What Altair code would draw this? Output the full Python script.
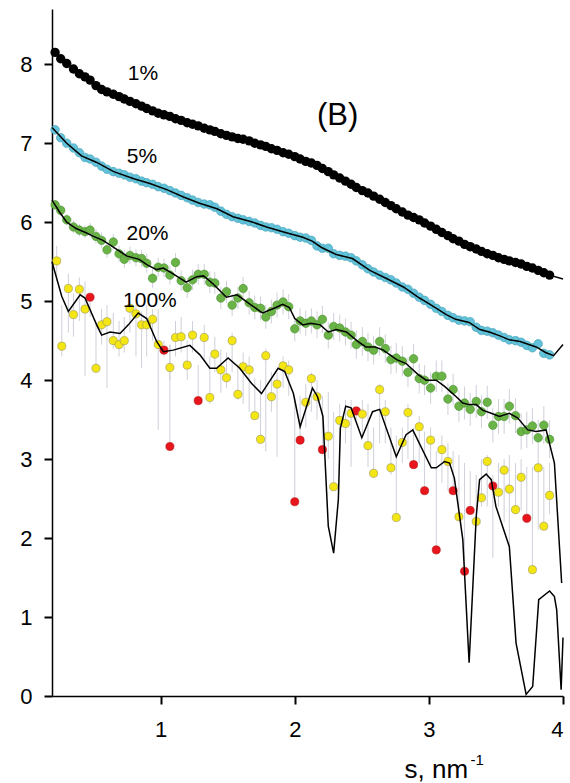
import altair as alt
import pandas as pd

FONT = "Liberation Sans"

s_grid = [0.213, 0.255, 0.30, 0.35, 0.394, 0.436, 0.474, 0.518, 0.56, 0.60,
          0.647, 0.69, 0.729, 0.771, 0.816, 0.858, 0.896, 0.94, 0.982, 1.025,
          1.069, 1.111, 1.153, 1.198, 1.238, 1.28, 1.325, 1.367, 1.404, 1.449,
          1.491, 1.533, 1.576, 1.615, 1.66, 1.702, 1.745, 1.784, 1.826, 1.868,
          1.913, 1.955, 2.0, 2.04, 2.082, 2.124, 2.166, 2.206, 2.25, 2.29,
          2.335, 2.378, 2.42, 2.459, 2.504, 2.546, 2.588, 2.633, 2.675, 2.717,
          2.757, 2.802, 2.844, 2.886, 2.928, 2.968, 3.013, 3.055, 3.097, 3.142,
          3.181, 3.224, 3.266, 3.308, 3.353, 3.392, 3.435, 3.477, 3.519, 3.561,
          3.60, 3.646, 3.688, 3.73, 3.772, 3.815, 3.857, 3.90]

v_1pct = [8.15, 8.07, 8.01, 7.94, 7.88, 7.84, 7.80, 7.73, 7.68, 7.65,
          7.62, 7.59, 7.56, 7.53, 7.50, 7.47, 7.44, 7.41, 7.38, 7.36,
          7.34, 7.31, 7.29, 7.26, 7.24, 7.22, 7.19, 7.17, 7.15, 7.12,
          7.10, 7.08, 7.06, 7.05, 7.03, 7.00, 6.98, 6.96, 6.93, 6.91,
          6.88, 6.86, 6.83, 6.80, 6.77, 6.75, 6.72, 6.68, 6.64, 6.60,
          6.56, 6.52, 6.48, 6.44, 6.40, 6.37, 6.33, 6.29, 6.25, 6.21,
          6.17, 6.13, 6.09, 6.06, 6.03, 5.99, 5.95, 5.91, 5.87, 5.83,
          5.79, 5.76, 5.72, 5.69, 5.66, 5.63, 5.60, 5.58, 5.55, 5.53,
          5.51, 5.49, 5.47, 5.44, 5.42, 5.39, 5.36, 5.33]

v_5pct = [7.17, 7.07, 7.00, 6.94, 6.88, 6.82, 6.80, 6.76, 6.71, 6.67,
          6.64, 6.62, 6.60, 6.57, 6.55, 6.52, 6.50, 6.48, 6.45, 6.43,
          6.40, 6.37, 6.34, 6.31, 6.28, 6.25, 6.23, 6.22, 6.19, 6.14,
          6.10, 6.07, 6.05, 6.03, 6.01, 5.99, 5.96, 5.94, 5.93, 5.91,
          5.88, 5.86, 5.83, 5.81, 5.80, 5.77, 5.70, 5.67, 5.67, 5.60,
          5.58, 5.57, 5.55, 5.51, 5.46, 5.41, 5.37, 5.33, 5.30, 5.27,
          5.23, 5.18, 5.15, 5.10, 5.05, 5.01, 4.96, 4.91, 4.87, 4.82,
          4.79, 4.76, 4.75, 4.74, 4.67, 4.63, 4.62, 4.60, 4.57, 4.54,
          4.51, 4.50, 4.48, 4.44, 4.41, 4.46, 4.34, 4.32]

v_20pct = [6.22, 6.15, 6.03, 5.94, 5.90, 5.88, 5.90, 5.82, 5.77, 5.65,
           5.75, 5.60, 5.53, 5.58, 5.55, 5.54, 5.48, 5.29, 5.43, 5.42,
           5.33, 5.49, 5.26, 5.17, 5.27, 5.34, 5.34, 5.24, 5.23, 5.04,
           5.12, 4.95, 5.04, 5.16, 4.98, 4.92, 4.91, 4.80, 4.87, 4.95,
           4.99, 4.93, 4.65, 4.75, 4.72, 4.75, 4.70, 4.77, 4.57, 4.68,
           4.66, 4.61, 4.57, 4.45, 4.49, 4.42, 4.38, 4.49, 4.40, 4.26,
           4.28, 4.24, 4.10, 4.27, 4.02, 4.00, 3.90, 4.05, 4.05, 3.76,
           3.88, 3.67, 3.71, 3.63, 3.73, 3.60, 3.72, 3.43, 3.54, 3.54,
           3.67, 3.55, 3.35, 3.37, 3.42, 3.27, 3.43, 3.25]

e_20pct = [0.06, 0.07, 0.07, 0.08, 0.08, 0.08, 0.09, 0.09, 0.10, 0.10,
           0.10, 0.10, 0.11, 0.11, 0.11, 0.11, 0.12, 0.12, 0.12, 0.12,
           0.12, 0.12, 0.13, 0.13, 0.13, 0.13, 0.13, 0.14, 0.14, 0.14,
           0.14, 0.14, 0.14, 0.15, 0.15, 0.15, 0.15, 0.15, 0.15, 0.16,
           0.16, 0.16, 0.16, 0.16, 0.16, 0.16, 0.17, 0.17, 0.17, 0.17,
           0.17, 0.17, 0.17, 0.18, 0.18, 0.18, 0.18, 0.18, 0.18, 0.18,
           0.19, 0.19, 0.19, 0.19, 0.19, 0.19, 0.20, 0.20, 0.20, 0.20,
           0.20, 0.20, 0.21, 0.21, 0.21, 0.21, 0.21, 0.22, 0.22, 0.22,
           0.22, 0.22, 0.23, 0.23, 0.23, 0.23, 0.24, 0.24]

s_100 = [0.225, 0.263, 0.312, 0.35, 0.394, 0.436, 0.474, 0.518, 0.56, 0.60,
         0.647, 0.69, 0.729, 0.771, 0.816, 0.858, 0.896, 0.94, 0.982, 1.025,
         1.069, 1.069, 1.111, 1.153, 1.198, 1.238, 1.28, 1.325, 1.367, 1.404,
         1.449, 1.491, 1.533, 1.576, 1.615, 1.66, 1.702, 1.745, 1.784, 1.826,
         1.868, 1.913, 1.955, 2.0, 2.04, 2.082, 2.124, 2.166, 2.206, 2.25,
         2.29, 2.335, 2.378, 2.42, 2.459, 2.504, 2.546, 2.588, 2.633, 2.675,
         2.717, 2.757, 2.802, 2.844, 2.886, 2.928, 2.968, 3.013, 3.055, 3.097,
         3.142, 3.181, 3.224, 3.266, 3.308, 3.353, 3.392, 3.435, 3.477, 3.519,
         3.561, 3.60, 3.646, 3.688, 3.73, 3.772, 3.815, 3.857, 3.90]
v_100 = [5.51, 4.43, 5.16, 4.83, 5.15, 4.90, 5.05, 4.15, 4.70, 4.74,
         4.50, 4.45, 4.50, 4.91, 4.84, 4.70, 4.70, 4.77, 4.45, 4.38,
         4.16, 3.16, 4.54, 4.55, 4.19, 4.57, 3.74, 4.54, 3.78, 4.33,
         4.13, 4.03, 4.50, 3.82, 4.17, 4.13, 3.55, 3.25, 4.31, 3.79,
         3.95, 4.18, 4.13, 2.46, 3.24, 3.72, 4.02, 3.79, 3.12, 3.29,
         2.65, 3.49, 3.45, 3.58, 3.61, 3.57, 3.17, 2.82, 3.88, 3.60,
         2.89, 2.26, 3.21, 3.59, 2.93, 3.41, 2.60, 3.24, 1.85, 3.12,
         2.97, 2.60, 2.27, 1.58, 2.35, 2.21, 2.51, 2.97, 2.66, 2.58,
         2.86, 2.62, 2.36, 2.77, 2.25, 1.60, 2.89, 2.15, 2.54]
flag_100 = ["ok", "ok", "ok", "ok", "ok", "ok", "out", "ok", "ok", "ok",
            "ok", "ok", "ok", "ok", "ok", "ok", "ok", "ok", "ok", "out",
            "ok", "out", "ok", "ok", "ok", "ok", "out", "ok", "ok", "ok",
            "ok", "ok", "ok", "ok", "ok", "ok", "ok", "ok", "ok", "ok",
            "ok", "ok", "ok", "out", "out", "ok", "ok", "ok", "out", "ok",
            "ok", "ok", "ok", "ok", "out", "ok", "ok", "ok", "ok", "ok",
            "ok", "ok", "ok", "ok", "out", "ok", "out", "ok", "out", "ok",
            "ok", "out", "ok", "out", "out", "ok", "ok", "ok", "out", "ok",
            "ok", "ok", "ok", "ok", "out", "ok", "ok", "ok", "ok"]
lo_100 = [5.25, 4.30, 4.60, 4.55, 4.75, 4.05, 4.80, 4.10, 4.45, 3.90,
          4.40, 4.30, 4.35, 4.60, 4.30, 4.15, 4.30, 4.50, 3.37, 4.30,
          4.00, 3.16, 4.30, 4.35, 4.00, 4.35, 3.74, 4.25, 3.70, 4.10,
          3.84, 3.90, 4.10, 3.75, 3.70, 3.60, 3.50, 3.20, 3.10, 3.60,
          3.03, 3.90, 3.80, 2.46, 3.24, 3.40, 3.60, 3.50, 3.12, 3.00,
          2.65, 3.10, 3.20, 2.90, 3.50, 3.30, 2.90, 2.80, 3.20, 3.20,
          2.80, 2.26, 2.95, 3.00, 2.93, 2.95, 2.60, 2.90, 1.85, 2.70,
          2.60, 2.60, 2.27, 1.58, 2.35, 2.15, 2.40, 2.40, 1.75, 2.40,
          2.20, 1.90, 2.30, 2.35, 2.25, 1.60, 2.10, 2.15, 2.30]
hi_100 = [5.70, 4.95, 5.35, 5.10, 5.30, 5.25, 5.10, 4.72, 4.90, 4.95,
          4.85, 4.75, 4.80, 5.00, 4.95, 4.87, 4.95, 4.90, 4.90, 4.50,
          4.45, 4.45, 4.75, 4.80, 4.50, 4.75, 4.19, 4.70, 4.30, 4.55,
          4.39, 4.35, 4.60, 4.20, 4.35, 4.30, 4.03, 4.00, 4.40, 4.10,
          4.10, 4.30, 4.25, 3.78, 3.80, 3.95, 4.10, 4.00, 3.80, 3.85,
          3.60, 3.70, 3.75, 3.75, 3.65, 3.75, 3.70, 3.40, 3.95, 3.75,
          3.40, 3.30, 3.40, 3.70, 3.40, 3.55, 3.35, 3.40, 3.10, 3.30,
          3.20, 3.10, 3.05, 2.95, 2.85, 2.80, 3.00, 3.05, 2.80, 2.95,
          3.00, 3.05, 2.95, 3.00, 2.90, 2.90, 3.05, 2.90, 2.95]

fit5_s = [0.19, 0.30, 0.41, 0.52, 0.65, 0.80, 0.92, 1.05, 1.17, 1.29,
          1.42, 1.54, 1.67, 1.79, 1.91, 2.06, 2.13, 2.20, 2.285, 2.31,
          2.43, 2.56, 2.68, 2.81, 2.93, 3.00, 3.13, 3.20, 3.30, 3.38,
          3.45, 3.53, 3.60, 3.68, 3.80, 3.87, 3.93, 4.0]
fit5_v = [7.20, 7.00, 6.84, 6.76, 6.64, 6.55, 6.49, 6.41, 6.32, 6.24,
          6.17, 6.07, 6.01, 5.94, 5.88, 5.81, 5.76, 5.68, 5.61, 5.59,
          5.54, 5.39, 5.29, 5.18, 5.04, 4.97, 4.83, 4.77, 4.73, 4.64,
          4.61, 4.56, 4.51, 4.49, 4.42, 4.35, 4.31, 4.45]
fit20_s = [0.19, 0.25, 0.30, 0.37, 0.44, 0.50, 0.57, 0.67, 0.75, 0.84,
           0.90, 0.97, 1.02, 1.09, 1.19, 1.27, 1.32, 1.39, 1.49, 1.57,
           1.66, 1.76, 1.86, 1.91, 1.96, 2.0, 2.06, 2.12, 2.19, 2.25,
           2.31, 2.385, 2.47, 2.53, 2.60, 2.66, 2.76, 2.83, 2.92, 2.98,
           3.055, 3.117, 3.204, 3.253, 3.30, 3.353, 3.40, 3.465, 3.526, 3.60,
           3.663, 3.737, 3.80, 3.874, 3.936, 3.99]
fit20_v = [6.28, 6.12, 6.00, 5.92, 5.87, 5.82, 5.77, 5.66, 5.57, 5.53,
           5.46, 5.40, 5.42, 5.35, 5.24, 5.31, 5.32, 5.22, 5.05, 5.08,
           4.97, 4.85, 4.92, 4.96, 4.92, 4.78, 4.70, 4.72, 4.70, 4.61,
           4.64, 4.61, 4.49, 4.42, 4.42, 4.38, 4.26, 4.21, 4.07, 4.00,
           4.00, 3.92, 3.79, 3.71, 3.69, 3.69, 3.62, 3.58, 3.54, 3.58,
           3.52, 3.37, 3.35, 3.37, 2.95, 1.43]
fit100_s = [0.19, 0.263, 0.312, 0.40, 0.436, 0.523, 0.56, 0.623, 0.697, 0.759,
            0.833, 0.896, 0.97, 1.02, 1.094, 1.218, 1.293, 1.367, 1.417, 1.503,
            1.59, 1.677, 1.752, 1.814, 1.876, 1.925, 1.99, 2.04, 2.132, 2.17,
            2.21, 2.25, 2.29, 2.325, 2.34, 2.38, 2.42, 2.50, 2.58, 2.633,
            2.757, 2.83, 2.88, 3.018, 3.055, 3.117, 3.154, 3.19, 3.253, 3.30,
            3.353, 3.378, 3.427, 3.465, 3.50, 3.60, 3.65, 3.725, 3.774, 3.819,
            3.90, 3.936, 3.953, 3.986, 4.0]
fit100_v = [5.50, 5.06, 4.87, 5.08, 5.04, 4.70, 4.57, 4.61, 4.59, 4.70,
            4.85, 4.78, 4.49, 4.36, 4.38, 4.44, 4.32, 4.15, 4.15, 4.28,
            4.15, 3.96, 3.83, 3.99, 4.15, 4.11, 3.83, 3.41, 3.90, 3.79,
            3.54, 2.15, 1.81, 2.49, 3.39, 3.67, 3.65, 3.27, 3.60, 3.63,
            3.03, 3.31, 3.37, 2.89, 2.89, 2.97, 2.95, 2.76, 1.98, 0.42,
            2.27, 2.74, 2.81, 2.74, 2.40, 1.89, 0.67, 0.02, 0.12, 1.22,
            1.33, 1.26, 1.09, 0.08, 0.74]
fit1_end_s = [4.0]
fit1_end_v = [5.28]

labels_text = ["1%", "5%", "20%", "100%"]
labels_s = [0.868, 0.861, 0.902, 0.92]
labels_v = [7.88, 6.83, 5.85, 5.00]

grid = pd.DataFrame({"s": s_grid, "v1": v_1pct, "v5": v_5pct, "v20": v_20pct})
grid["lo20"] = [v - e for v, e in zip(v_20pct, e_20pct)]
grid["hi20"] = [v + e for v, e in zip(v_20pct, e_20pct)]
d100 = pd.DataFrame({"s": s_100, "v": v_100, "flag": flag_100, "lo": lo_100, "hi": hi_100})
f1 = pd.DataFrame({"s": s_grid + fit1_end_s, "v": v_1pct + fit1_end_v})
f5 = pd.DataFrame({"s": fit5_s, "v": fit5_v})
f20 = pd.DataFrame({"s": fit20_s, "v": fit20_v})
f100 = pd.DataFrame({"s": fit100_s, "v": fit100_v})
lab = pd.DataFrame({"s": labels_s, "v": labels_v, "t": labels_text})
ann_b = pd.DataFrame({"s": [2.32], "v": [7.34], "t": ["(B)"]})
ann_sup = pd.DataFrame({"s": [3.31], "v": [-0.87], "t": ["-1"]})

xscale = alt.Scale(domain=[0.19, 4.0], nice=False, zero=False)
yscale = alt.Scale(domain=[0, 8.7], nice=False, zero=False)
xaxis = alt.Axis(values=[1, 2, 3, 4], title="s, nm", titleX=352, titleY=81,
                 titleAlign="left", titleBaseline="alphabetic", labelPadding=15)
yaxis = alt.Axis(values=[0, 1, 2, 3, 4, 5, 6, 7, 8], title="", labelPadding=12)


def X(field="s"):
    return alt.X(f"{field}:Q", scale=xscale, axis=xaxis)


def Y(field):
    return alt.Y(f"{field}:Q", scale=yscale, axis=yaxis)


ERR = "#cfd0da"

err20 = alt.Chart(grid).mark_rule(color=ERR, strokeWidth=1).encode(
    x=X(), y=Y("lo20"), y2="hi20:Q")
err100 = alt.Chart(d100).mark_rule(color=ERR, strokeWidth=1).encode(
    x=X(), y=Y("lo"), y2="hi:Q")

line1 = alt.Chart(f1).mark_line(color="black", strokeWidth=1.5).encode(x=X(), y=Y("v"))
pts1 = alt.Chart(grid).mark_circle(size=88, color="black", opacity=1).encode(x=X(), y=Y("v1"))

pts5 = alt.Chart(grid).mark_circle(size=74, color="#62c3da", stroke="#3c9cb3",
                                   strokeWidth=0.6, opacity=1).encode(x=X(), y=Y("v5"))
line5 = alt.Chart(f5).mark_line(color="black", strokeWidth=1.5).encode(x=X(), y=Y("v"))

pts20 = alt.Chart(grid).mark_circle(size=72, color="#6ab347", stroke="#4a8f30",
                                    strokeWidth=0.6, opacity=1).encode(x=X(), y=Y("v20"))
line20 = alt.Chart(f20).mark_line(color="black", strokeWidth=1.5).encode(x=X(), y=Y("v"))

pts100 = alt.Chart(d100).mark_circle(size=66, strokeWidth=0.6, opacity=1).encode(
    x=X(), y=Y("v"),
    color=alt.Color("flag:N", scale=alt.Scale(domain=["ok", "out"], range=["#f4e614", "#e8161c"]), legend=None),
    stroke=alt.Stroke("flag:N", scale=alt.Scale(domain=["ok", "out"], range=["#9a9350", "#b01515"]), legend=None),
)
line100 = alt.Chart(f100).mark_line(color="black", strokeWidth=1.5).encode(x=X(), y=Y("v"))

txt = alt.Chart(lab).mark_text(font=FONT, fontSize=21, color="black",
                               align="center", baseline="middle").encode(
    x=X(), y=Y("v"), text="t:N")
txt_b = alt.Chart(ann_b).mark_text(font=FONT, fontSize=31, color="black",
                                   align="center", baseline="middle").encode(
    x=X(), y=Y("v"), text="t:N")
txt_sup = alt.Chart(ann_sup).mark_text(font=FONT, fontSize=15, color="black",
                                       align="left", baseline="alphabetic").encode(
    x=X(), y=Y("v"), text="t:N")

chart = alt.layer(
    err100, err20, line1, pts1, pts5, line5, pts20, line20, pts100, line100,
    txt, txt_b, txt_sup,
).properties(
    width=511, height=687,
    autosize=alt.AutoSizeParams(type="none"),
    padding={"left": 52, "top": 9, "right": 7, "bottom": 87},
    background="white",
).configure_view(
    stroke="transparent"
).configure_axis(
    labelFont=FONT, labelFontSize=22, labelColor="black",
    tickSize=8, tickWidth=2, tickColor="black",
    domainColor="black", domainWidth=1.5, grid=False,
    titleFont=FONT, titleFontSize=26, titleFontWeight="normal", titleColor="black",
)

chart.save("out.html", embed_options={"renderer": "svg", "actions": False})
